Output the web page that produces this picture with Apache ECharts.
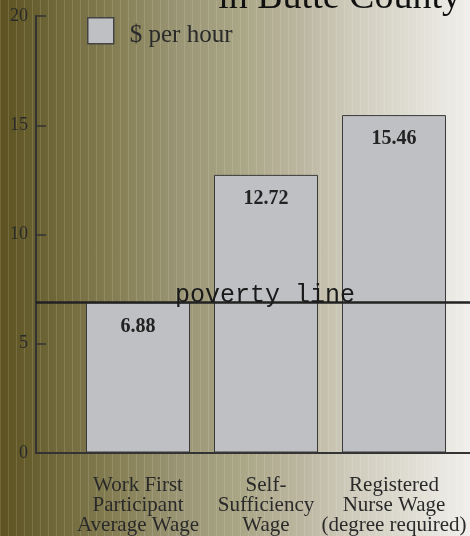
<!DOCTYPE html>
<html>
<head>
    <meta http-equiv="Content-Type" content="text/html; charset=UTF-8">
    <title>Wages in Butte County</title>
    <script type="text/javascript" src="https://cdn.jsdelivr.net/npm/echarts@6/dist/echarts.min.js"></script>
    <style>
        html, body { margin: 0; padding: 0; }
        #view {
            width: 470px; height: 536px;
            background:
                repeating-linear-gradient(90deg, rgba(255,255,240,0.13) 0px, rgba(255,255,240,0.13) 1px, transparent 1px, transparent 8px),
                linear-gradient(90deg, #5d5220 0%, #6e6638 11%, #867f55 25%, #9a9574 38%, #a8a584 50%, #bcb6a0 64%, #cfccbd 75%, #dcdace 85%, #f0efec 100%);
        }
    </style>
</head>
<body>
<div id="view"></div>
</body>
<script type="text/javascript">

    // 数据
    var categories = ['Work First\nParticipant\nAverage Wage', 'Self-\nSufficiency\nWage', 'Registered\nNurse Wage\n(degree required)'];
    var wages = [6.88, 12.72, 15.46];
    var povertyLine = 6.9;
    var yTicks = { min: 0, max: 20, interval: 5 };

    var serif = '"Liberation Serif", "DejaVu Serif", serif';
    var myChart = echarts.init(document.getElementById('view'), null, { renderer: 'canvas' });

    var option = {
        backgroundColor: 'transparent',
        animation: false,
        title: {
            text: 'in Butte County',
            right: 4,
            top: -26,
            textStyle: { fontFamily: serif, fontSize: 38, fontWeight: 'normal', color: '#111' }
        },
        legend: {
            left: 82,
            top: 12,
            icon: 'rect',
            itemWidth: 26,
            itemHeight: 26,
            itemStyle: { borderColor: '#444', borderWidth: 1.5 },
            formatter: function (name) { return '{t|' + name + '}'; },
            textStyle: {
                rich: {
                    t: { fontFamily: serif, fontSize: 25, color: '#2a2a2a', padding: [9, 0, 0, 11] }
                }
            },
            data: ['$ per hour']
        },
        grid: [
            // 轴线所在的网格
            { left: 36, right: -2, top: 16, bottom: 83 },
            // 柱子所在的网格
            { left: 74, right: 12, top: 16, bottom: 83 }
        ],
        xAxis: [
            {
                gridIndex: 0, type: 'value', min: 0, max: 1,
                axisLine: { show: true, lineStyle: { color: '#333', width: 2 } },
                axisTick: { show: false }, axisLabel: { show: false }, splitLine: { show: false }
            },
            {
                gridIndex: 1, type: 'category', data: categories,
                axisLine: { show: false }, axisTick: { show: false },
                axisLabel: {
                    interval: 0, margin: 23, fontFamily: serif, fontSize: 21,
                    lineHeight: 20, color: '#2a2a2a', align: 'center'
                }
            }
        ],
        yAxis: [
            {
                gridIndex: 0, type: 'value', min: yTicks.min, max: yTicks.max, interval: yTicks.interval,
                axisLine: { show: true, lineStyle: { color: '#333', width: 2 } },
                axisTick: { show: true, inside: true, length: 10, lineStyle: { color: '#333', width: 1.5 } },
                axisLabel: { margin: 8, fontFamily: serif, fontSize: 18, color: '#2a2a2a' },
                splitLine: { show: false }
            },
            {
                gridIndex: 1, type: 'value', min: yTicks.min, max: yTicks.max, show: false
            }
        ],
        series: [
            {
                name: '$ per hour',
                type: 'bar',
                xAxisIndex: 1,
                yAxisIndex: 1,
                barWidth: 104,
                data: wages,
                itemStyle: { color: '#bfc0c3', borderColor: '#3a3a3a', borderWidth: 1 },
                label: {
                    show: true, position: 'insideTop', distance: 14,
                    fontFamily: serif, fontSize: 20, fontWeight: 'bold', color: '#222',
                    formatter: function (p) { return p.value.toFixed(2); }
                }
            },
            {
                name: 'poverty',
                type: 'line',
                xAxisIndex: 0,
                yAxisIndex: 0,
                data: [],
                z: 5,
                markLine: {
                    silent: true,
                    symbol: ['none', 'none'],
                    lineStyle: { color: '#222', width: 2.5, type: 'solid' },
                    label: {
                        show: true, position: 'insideMiddleTop', distance: 0, offset: [12, 6],
                        formatter: 'poverty line',
                        fontFamily: '"Liberation Mono", "DejaVu Sans Mono", monospace',
                        fontSize: 25, color: '#1a1a1a'
                    },
                    data: [{ yAxis: povertyLine }]
                }
            }
        ]
    };
    myChart.setOption(option);
</script>
</html>
